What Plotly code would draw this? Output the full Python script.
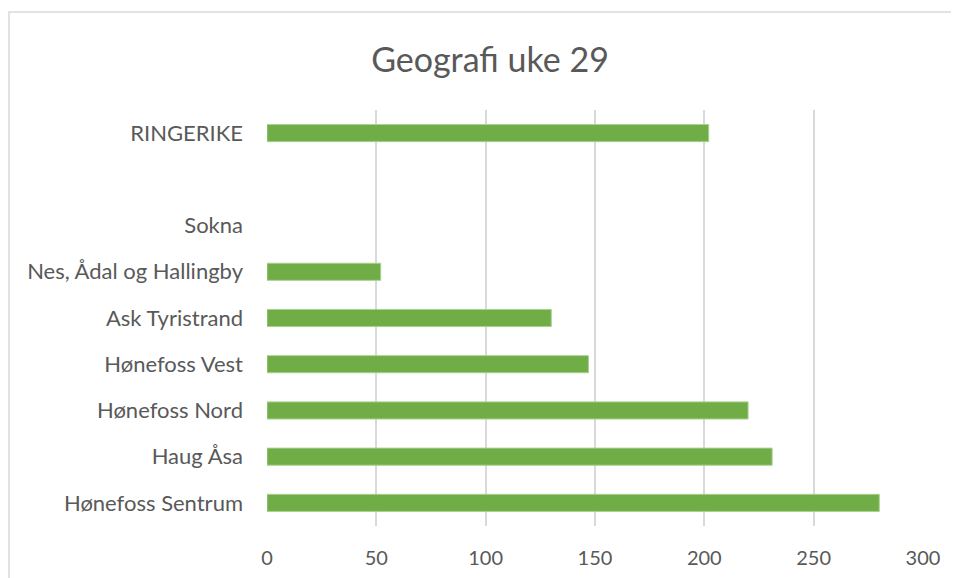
import plotly.graph_objects as go

categories = ["Hønefoss Sentrum", "Haug Åsa", "Hønefoss Nord", "Hønefoss Vest",
              "Ask Tyristrand", "Nes, Ådal og Hallingby", "Sokna", " ", "RINGERIKE"]
values = [280, 231, 220, 147, 130, 52, None, None, 202]
x_ticks = [0, 50, 100, 150, 200, 250, 300]
title = "Geografi uke 29"

# page body has an 8px default margin; figure sits at (8, 8) in the window
OFF = 8
W, H = 959 - OFF, 578 - OFF
ML, MT = 267 - OFF, 110 - OFF
MR, MB = 959 - 923, 578 - 526
pw, ph = W - ML - MR, H - MT - MB

font_fam = "Lato, 'Open Sans', sans-serif"
txt = "#595959"

fig = go.Figure(go.Bar(
    x=values, y=categories, orientation="h",
    marker=dict(color="#70AD47", line=dict(color="#A9D18E", width=1)),
    hoverinfo="x+y",
))

fig.update_layout(
    width=W, height=H,
    margin=dict(l=ML, r=MR, t=MT, b=MB, autoexpand=False),
    paper_bgcolor="white", plot_bgcolor="white",
    bargap=0.63,
    showlegend=False,
    title=dict(text=title, x=(490 - OFF) / W, xanchor="center",
               y=1 - (60 - OFF) / H, yanchor="middle",
               font=dict(family=font_fam, size=34, color=txt)),
    font=dict(family=font_fam, color=txt),
    xaxis=dict(range=[0, 300], tickvals=x_ticks, showgrid=True, gridcolor="#D9D9D9",
               gridwidth=1.5, zeroline=False, showline=False, automargin=False,
               tickfont=dict(size=20, color=txt), ticklabelstandoff=18),
    yaxis=dict(categoryorder="array", categoryarray=categories, range=[-0.5, 8.5],
               showgrid=False, zeroline=False, showline=False, automargin=False,
               tickfont=dict(size=22, color=txt), ticklabelstandoff=23),
    shapes=[dict(type="rect", xref="paper", yref="paper",
                 x0=(9 - OFF - ML) / pw, x1=(W + 20 - ML) / pw,
                 y0=-(MB + 20) / ph, y1=(H - MB - (12 - OFF)) / ph,
                 line=dict(color="#D9D9D9", width=1.5), fillcolor="rgba(0,0,0,0)", layer="below")],
)

fig.write_html("out.html")
